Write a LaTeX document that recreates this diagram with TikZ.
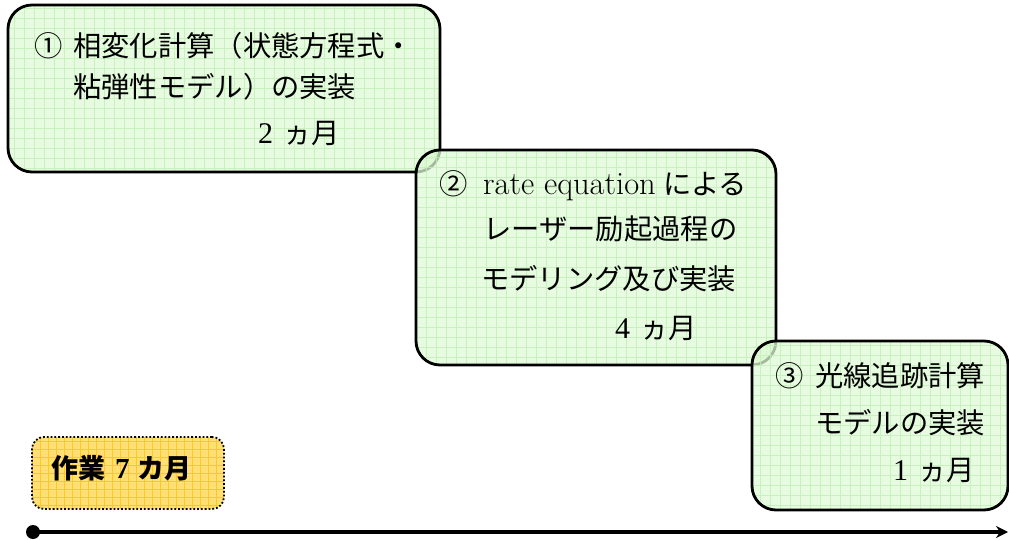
\documentclass[tikz,border=0pt]{standalone}
\usepackage{fontspec}
\newfontfamily\cjk{Noto Sans CJK JP}
\newfontfamily\dig{Liberation Serif}
\usetikzlibrary{arrows.meta}
\definecolor{boxfill}{HTML}{DDF9D4}
\definecolor{boxgrid}{HTML}{C2EFB8}
\definecolor{orfill}{HTML}{FFE070}
\definecolor{orgrid}{HTML}{FFC81E}
\newcommand{\lmd}[1]{{\dig\fontsize{30}{30}\selectfont #1}}
\tikzset{
  phase/.style={draw=black, line width=2.8pt, rounded corners=24pt, fill=boxfill, fill opacity=0.75,
    inner sep=0pt,
    path picture={\draw[boxgrid, line width=0.8pt, opacity=0.8, step=10pt]
      ([shift={(-20pt,-20pt)}]path picture bounding box.south west) grid ([shift={(20pt,20pt)}]path picture bounding box.north east);}},
  total/.style={draw=black, line width=1.8pt, dotted, rounded corners=12pt, fill=orfill,
    inner sep=0pt,
    path picture={\draw[orgrid, solid, line width=0.8pt, step=8pt]
      ([shift={(-20pt,-20pt)}]path picture bounding box.south west) grid ([shift={(20pt,20pt)}]path picture bounding box.north east);}},
  txt/.style={anchor=base west, inner sep=0pt, font=\cjk\fontsize{28.3}{28.3}\selectfont},
  lat/.style={anchor=base west, inner sep=0pt, font=\fontsize{32.5}{32.5}\selectfont},
}
\begin{document}
\begin{tikzpicture}[x=1pt,y=-1pt]
\useasboundingbox (0,0) rectangle (1009,540);
% boxes
\node[phase, minimum width=432pt, minimum height=167pt] (b1) at (224,88.5) {};
\node[phase, minimum width=360pt, minimum height=215pt] (b2) at (596,257.5) {};
\node[phase, minimum width=256pt, minimum height=169pt] (b3) at (880,425.5) {};
\node[total, minimum width=192pt, minimum height=72pt] (b4) at (128,473) {};
% box 1 text
\node[txt] (t1a) at (34,57) {①};
\node[txt] (t1b) at (73,57) {相変化計算（状態方程式・};
\node[txt] (t1c) at (73,98) {粘弾性モデル）の実装};
\node[txt] (t1d) at (258,144) {\lmd{2}\hspace{10pt}ヵ月};
% box 2 text
\node[txt] (t2a) at (439,195) {②};
\node[lat] (t2b) at (483,195) {rate equation};
\node[txt] (t2c) at (663,195) {による};
\node[txt] (t2d) at (483,240) {レーザー励起過程の};
\node[txt] (t2e) at (481,289) {モデリング及び実装};
\node[txt] (t2f) at (615,338) {\lmd{4}\hspace{10pt}ヵ月};
% box 3 text
\node[txt] (t3a) at (775,386) {③};
\node[txt] (t3b) at (815,386) {光線追跡計算};
\node[txt] (t3c) at (815,433) {モデルの実装};
\node[txt] (t3d) at (893,480) {\lmd{1}\hspace{10pt}ヵ月};
% total
\node[txt, font=\cjk\bfseries\fontsize{27}{27}\selectfont] (t4) at (51,478) {作業\hspace{10pt}{\dig\bfseries\fontsize{29}{29}\selectfont 7}\hspace{8pt}カ月};
% timeline
\coordinate (s) at (33,532);
\coordinate (e) at (1008,532);
\fill (s) circle (7pt);
\draw[line width=3.2pt, -{Stealth[length=12pt,width=12pt]}] (s) -- (e);
\end{tikzpicture}
\end{document}
